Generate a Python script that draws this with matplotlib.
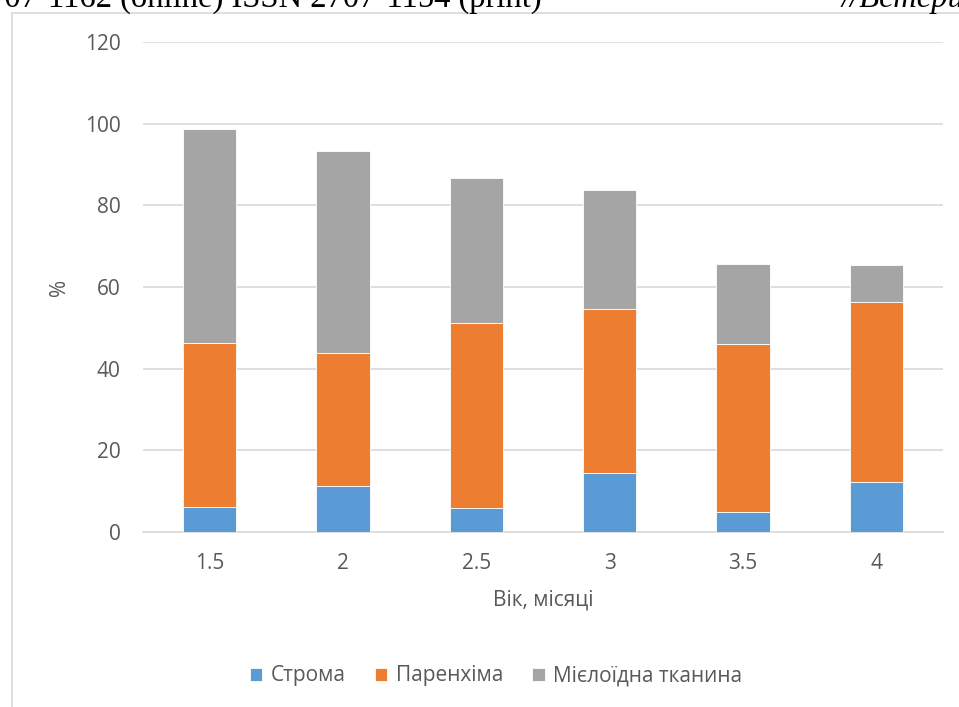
import matplotlib.pyplot as plt
import numpy as np

plt.rcParams['font.family'] = ['Open Sans', 'DejaVu Sans']

ages = ['1.5', '2', '2.5', '3', '3.5', '4']
stroma = [6.2, 11.3, 5.9, 14.4, 5.0, 12.2]
parenchyma = [40.0, 32.5, 45.4, 40.3, 41.0, 44.1]
myeloid = [52.6, 49.6, 35.5, 29.1, 19.6, 9.2]
series_names = ['Строма', 'Паренхіма', 'Мієлоїдна тканина']
colors = ['#5b9bd5', '#ed7d31', '#a5a5a5']

W, H = 959, 707
fig = plt.figure(figsize=(W / 100, H / 100), dpi=100)

# axes box in pixel coords (left, top, right, bottom)
l, t, r, b = 143, 42, 943, 532
ax = fig.add_axes([l / W, 1 - b / H, (r - l) / W, (b - t) / H])

x = np.arange(len(ages))
bottom = np.zeros(len(ages))
for vals, name, c in zip([stroma, parenchyma, myeloid], series_names, colors):
    ax.bar(x, vals, 0.4, bottom=bottom, color=c, label=name,
           edgecolor='white', linewidth=0.6, zorder=3)
    bottom += np.array(vals)

ax.set_xlim(-0.5, len(ages) - 0.5)
ax.set_ylim(0, 120)
ax.set_yticks(range(0, 121, 20))
ax.set_xticks(x)
ax.set_xticklabels(ages)
ax.grid(axis='y', color='#d9d9d9', linewidth=1.2, zorder=0)
for s in ['top', 'right', 'left']:
    ax.spines[s].set_visible(False)
ax.spines['bottom'].set_color('#d9d9d9')
ax.spines['bottom'].set_linewidth(1.2)
ax.tick_params(length=0, labelsize=15, colors='#595959')
ax.tick_params(axis='y', pad=16)
ax.tick_params(axis='x', pad=15)
ax.set_ylabel('%', fontsize=15, color='#595959')
ax.yaxis.set_label_coords((70 - l) / (r - l), 0.5)
ax.set_xlabel('Вік, місяці', fontsize=15, color='#595959')
ax.xaxis.set_label_coords(0.5, -(590 - b) / (b - t))

ax.legend(loc='center', bbox_to_anchor=(496 / W, 1 - 676 / H),
          bbox_transform=fig.transFigure, ncol=3, frameon=False,
          fontsize=15, handlelength=0.6, handleheight=0.6,
          columnspacing=1.4, handletextpad=0.4, labelcolor='#595959')

# chart frame (left and top edges visible)
fig.add_artist(plt.Line2D([12 / W, 12 / W], [0, 1 - 13 / H],
                          transform=fig.transFigure, color='#d9d9d9', lw=1.2))
fig.add_artist(plt.Line2D([12 / W, 1], [1 - 13 / H, 1 - 13 / H],
                          transform=fig.transFigure, color='#d9d9d9', lw=1.2))

# page header cut off at top
fig.text(-12 / W, 1 - 7 / H, '707-1162 (online) ISSN 2707-1154 (print)',
         family='Liberation Serif', fontsize=23.5, va='baseline', ha='left')
fig.text(841 / W, 1 - 7 / H, '//Ветеринарна',
         family='Liberation Serif', style='italic', fontsize=23.5,
         va='baseline', ha='left')

fig.savefig('out.png', dpi=100)
